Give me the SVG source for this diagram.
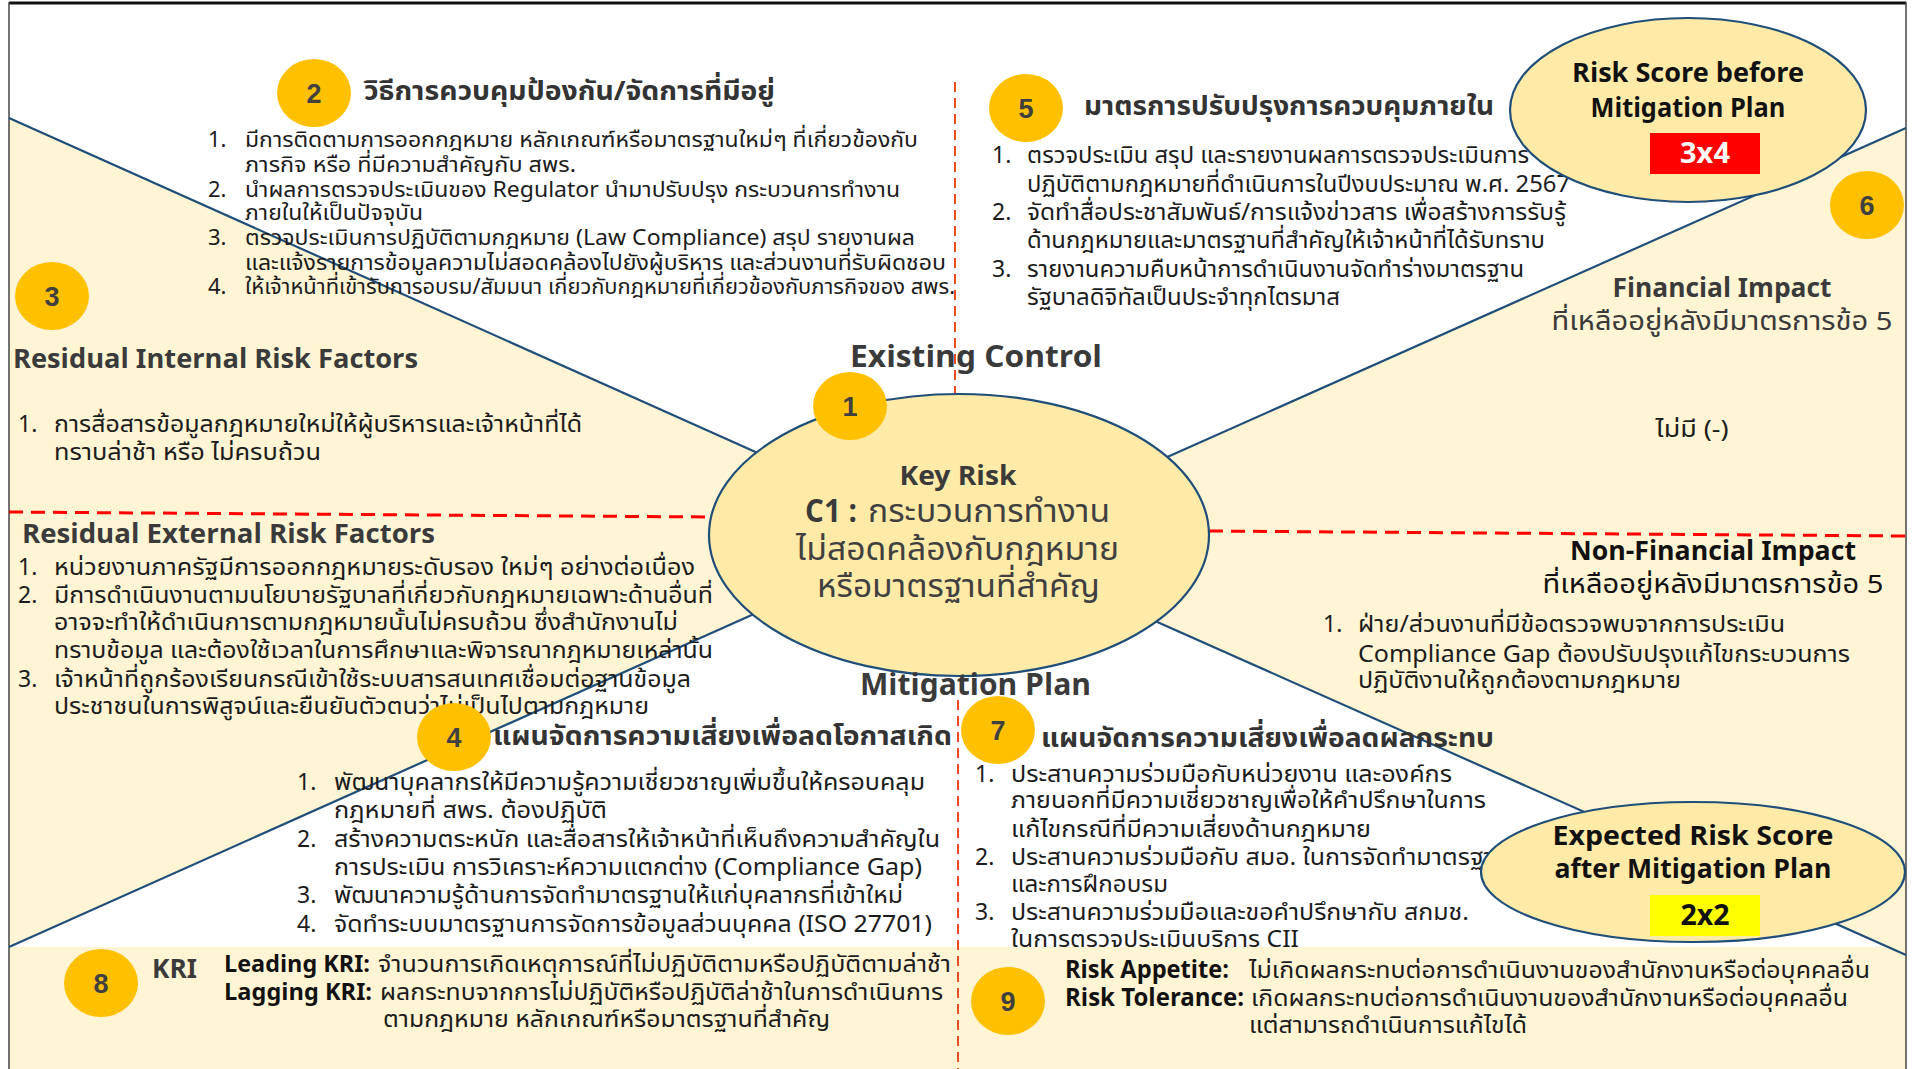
<svg xmlns="http://www.w3.org/2000/svg" width="1913" height="1069" viewBox="0 0 1913 1069">
  <style>
    text { font-family: "Noto Sans Thai", "Noto Sans", "Liberation Sans", sans-serif; fill: #1c1c1c; }
    .b { font-weight: bold; }
    .body { font-size: 23px; }
    .small { font-size: 22px; }
    .title { font-size: 27px; font-weight: bold; fill: #333333; }
    .head { font-size: 27px; font-weight: bold; fill: #3a3a3a; }
    .big { font-size: 31px; font-weight: bold; fill: #3a3a3a; }
    .num ellipse { fill: #FFC000; }
    .num text { font-family: "Liberation Sans", sans-serif; font-size: 27px; font-weight: bold; fill: #404040; text-anchor: middle; }
    .mid { text-anchor: middle; }
    .div { stroke: #1F4E79; stroke-width: 2.2; fill: none; }
    .dashv { stroke: #EE4B22; stroke-width: 2; stroke-dasharray: 10 6; fill: none; }
    .dashh { stroke: #FF0000; stroke-width: 3; stroke-dasharray: 14 8; fill: none; }
    .oval { fill: #FFEAA7; stroke: #1F4E79; stroke-width: 2.2; }
    .tan { fill: #FFF4D3; }
  </style>

  <!-- background panels -->
  <g id="panels">
    <rect x="0" y="0" width="1913" height="1069" fill="#FFFFFF"/>
    <polygon class="tan" points="9,118 760,454 959,535 754,614 9,947"/>
    <polygon class="tan" points="1906,128 1165,458 959,535 1155,621 1906,955"/>
    <rect class="tan" x="9" y="947" width="1897" height="122"/>
  </g>

  <!-- frame -->
  <g id="frame">
    <line x1="9" y1="3" x2="1906" y2="3" stroke="#111111" stroke-width="3"/>
    <line x1="9" y1="2" x2="9" y2="1069" stroke="#444444" stroke-width="1.5"/>
    <line x1="1906" y1="2" x2="1906" y2="1069" stroke="#444444" stroke-width="1.5"/>
  </g>

  <!-- dividing lines -->
  <g id="connectors">
    <line class="div" x1="9" y1="118" x2="760" y2="454"/>
    <line class="div" x1="754" y1="614" x2="9" y2="947"/>
    <line class="div" x1="1165" y1="458" x2="1906" y2="128"/>
    <line class="div" x1="1155" y1="621" x2="1906" y2="955"/>
    <line class="dashv" x1="955" y1="82" x2="955" y2="393"/>
    <line class="dashv" x1="958" y1="700" x2="958" y2="1069"/>
    <line class="dashh" x1="9" y1="512" x2="709" y2="517"/>
    <line class="dashh" x1="1209" y1="531" x2="1906" y2="536"/>
  </g>

  <!-- 1: key risk -->
  <g id="key-risk">
    <ellipse class="oval" cx="959" cy="535" rx="250" ry="141"/>
    <text class="head mid" x="958" y="485" textLength="117" lengthAdjust="spacingAndGlyphs">Key Risk</text>
    <text x="805" y="522" class="b" font-size="32" style="fill:#3a3a3a" textLength="52" lengthAdjust="spacingAndGlyphs">C1 :</text>
    <text x="868" y="522" font-size="32" style="fill:#404040" textLength="242" lengthAdjust="spacingAndGlyphs">กระบวนการทำงาน</text>
    <text x="796" y="560" font-size="32" style="fill:#404040" textLength="323" lengthAdjust="spacingAndGlyphs">ไม่สอดคล้องกับกฎหมาย</text>
    <text x="817" y="597" font-size="32" style="fill:#404040" textLength="283" lengthAdjust="spacingAndGlyphs">หรือมาตรฐานที่สำคัญ</text>
    <g class="num"><ellipse cx="850" cy="406" rx="37" ry="34"/><text x="850" y="416">1</text></g>
  </g>

  <!-- section labels -->
  <g id="labels">
    <text class="big" x="850" y="367" textLength="252" lengthAdjust="spacingAndGlyphs">Existing Control</text>
    <text class="big" x="860" y="695" textLength="231" lengthAdjust="spacingAndGlyphs">Mitigation Plan</text>
  </g>

  <!-- 2: existing controls -->
  <g id="existing-controls">
    <g class="num"><ellipse cx="314" cy="93" rx="37" ry="34"/><text x="314" y="103">2</text></g>
    <text class="title" x="364" y="100" textLength="411" lengthAdjust="spacingAndGlyphs">วิธีการควบคุมป้องกัน/จัดการที่มีอยู่</text>
    <g class="small">
      <text x="208" y="147">1.</text>
      <text x="245" y="147" textLength="673" lengthAdjust="spacingAndGlyphs">มีการติดตามการออกกฎหมาย หลักเกณฑ์หรือมาตรฐานใหม่ๆ ที่เกี่ยวข้องกับ</text>
      <text x="245" y="172" textLength="331" lengthAdjust="spacingAndGlyphs">ภารกิจ หรือ ที่มีความสำคัญกับ สพร.</text>
      <text x="208" y="197">2.</text>
      <text x="245" y="197" textLength="655" lengthAdjust="spacingAndGlyphs">นำผลการตรวจประเมินของ Regulator นำมาปรับปรุง กระบวนการทำงาน</text>
      <text x="245" y="220" textLength="178" lengthAdjust="spacingAndGlyphs">ภายในให้เป็นปัจจุบัน</text>
      <text x="208" y="245">3.</text>
      <text x="245" y="245" textLength="670" lengthAdjust="spacingAndGlyphs">ตรวจประเมินการปฏิบัติตามกฎหมาย (Law Compliance) สรุป รายงานผล</text>
      <text x="245" y="270" textLength="701" lengthAdjust="spacingAndGlyphs">และแจ้งรายการข้อมูลความไม่สอดคล้องไปยังผู้บริหาร และส่วนงานที่รับผิดชอบ</text>
      <text x="208" y="294">4.</text>
      <text x="245" y="294" textLength="710" lengthAdjust="spacingAndGlyphs">ให้เจ้าหน้าที่เข้ารับการอบรม/สัมมนา เกี่ยวกับกฎหมายที่เกี่ยวข้องกับภารกิจของ สพร.</text>
    </g>
  </g>

  <!-- 3: residual risk factors -->
  <g id="residual-factors">
    <g class="num"><ellipse cx="52" cy="296" rx="37" ry="34"/><text x="52" y="306">3</text></g>
    <text class="head" x="13" y="368" textLength="405" lengthAdjust="spacingAndGlyphs">Residual Internal Risk Factors</text>
    <g class="body">
      <text x="18" y="432">1.</text>
      <text x="54" y="432" textLength="528" lengthAdjust="spacingAndGlyphs">การสื่อสารข้อมูลกฎหมายใหม่ให้ผู้บริหารและเจ้าหน้าที่ได้</text>
      <text x="54" y="460" textLength="267" lengthAdjust="spacingAndGlyphs">ทราบล่าช้า หรือ ไม่ครบถ้วน</text>
    </g>
    <text class="head" x="22" y="543" textLength="413" lengthAdjust="spacingAndGlyphs">Residual External Risk Factors</text>
    <g class="body">
      <text x="18" y="575">1.</text>
      <text x="54" y="575" textLength="641" lengthAdjust="spacingAndGlyphs">หน่วยงานภาครัฐมีการออกกฎหมายระดับรอง ใหม่ๆ อย่างต่อเนื่อง</text>
      <text x="18" y="603">2.</text>
      <text x="54" y="603" textLength="659" lengthAdjust="spacingAndGlyphs">มีการดำเนินงานตามนโยบายรัฐบาลที่เกี่ยวกับกฎหมายเฉพาะด้านอื่นที่</text>
      <text x="54" y="630" textLength="624" lengthAdjust="spacingAndGlyphs">อาจจะทำให้ดำเนินการตามกฎหมายนั้นไม่ครบถ้วน ซึ่งสำนักงานไม่</text>
      <text x="54" y="658" textLength="659" lengthAdjust="spacingAndGlyphs">ทราบข้อมูล และต้องใช้เวลาในการศึกษาและพิจารณากฎหมายเหล่านั้น</text>
      <text x="18" y="687">3.</text>
      <text x="54" y="687" textLength="637" lengthAdjust="spacingAndGlyphs">เจ้าหน้าที่ถูกร้องเรียนกรณีเข้าใช้ระบบสารสนเทศเชื่อมต่อฐานข้อมูล</text>
      <text x="54" y="714" textLength="595" lengthAdjust="spacingAndGlyphs">ประชาชนในการพิสูจน์และยืนยันตัวตนว่าไม่เป็นไปตามกฎหมาย</text>
    </g>
  </g>

  <!-- 4: likelihood mitigation -->
  <g id="likelihood-plan">
    <g class="num"><ellipse cx="454" cy="737" rx="37" ry="34"/><text x="454" y="747">4</text></g>
    <text class="title" x="493" y="745" textLength="459" lengthAdjust="spacingAndGlyphs">แผนจัดการความเสี่ยงเพื่อลดโอกาสเกิด</text>
    <g class="body">
      <text x="297" y="790">1.</text>
      <text x="334" y="790" textLength="591" lengthAdjust="spacingAndGlyphs">พัฒนาบุคลากรให้มีความรู้ความเชี่ยวชาญเพิ่มขึ้นให้ครอบคลุม</text>
      <text x="334" y="818" textLength="273" lengthAdjust="spacingAndGlyphs">กฎหมายที่ สพร. ต้องปฏิบัติ</text>
      <text x="297" y="847">2.</text>
      <text x="334" y="847" textLength="606" lengthAdjust="spacingAndGlyphs">สร้างความตระหนัก และสื่อสารให้เจ้าหน้าที่เห็นถึงความสำคัญใน</text>
      <text x="334" y="875" textLength="588" lengthAdjust="spacingAndGlyphs">การประเมิน การวิเคราะห์ความแตกต่าง (Compliance Gap)</text>
      <text x="297" y="903">3.</text>
      <text x="334" y="903" textLength="569" lengthAdjust="spacingAndGlyphs">พัฒนาความรู้ด้านการจัดทำมาตรฐานให้แก่บุคลากรที่เข้าใหม่</text>
      <text x="297" y="932">4.</text>
      <text x="334" y="932" textLength="598" lengthAdjust="spacingAndGlyphs">จัดทำระบบมาตรฐานการจัดการข้อมูลส่วนบุคคล (ISO 27701)</text>
    </g>
  </g>

  <!-- 5: control improvements -->
  <g id="control-improvements">
    <g class="num"><ellipse cx="1026" cy="108" rx="37" ry="34"/><text x="1026" y="118">5</text></g>
    <text class="title" x="1084" y="115" textLength="410" lengthAdjust="spacingAndGlyphs">มาตรการปรับปรุงการควบคุมภายใน</text>
    <g class="body">
      <text x="992" y="163">1.</text>
      <text x="1027" y="163" textLength="502" lengthAdjust="spacingAndGlyphs">ตรวจประเมิน สรุป และรายงานผลการตรวจประเมินการ</text>
      <text x="1027" y="192" textLength="543" lengthAdjust="spacingAndGlyphs">ปฏิบัติตามกฎหมายที่ดำเนินการในปีงบประมาณ พ.ศ. 2567</text>
      <text x="992" y="220">2.</text>
      <text x="1027" y="220" textLength="539" lengthAdjust="spacingAndGlyphs">จัดทำสื่อประชาสัมพันธ์/การแจ้งข่าวสาร เพื่อสร้างการรับรู้</text>
      <text x="1027" y="248" textLength="518" lengthAdjust="spacingAndGlyphs">ด้านกฎหมายและมาตรฐานที่สำคัญให้เจ้าหน้าที่ได้รับทราบ</text>
      <text x="992" y="277">3.</text>
      <text x="1027" y="277" textLength="497" lengthAdjust="spacingAndGlyphs">รายงานความคืบหน้าการดำเนินงานจัดทำร่างมาตรฐาน</text>
      <text x="1027" y="305" textLength="313" lengthAdjust="spacingAndGlyphs">รัฐบาลดิจิทัลเป็นประจำทุกไตรมาส</text>
    </g>
  </g>

  <!-- risk score before mitigation -->
  <g id="score-before">
    <ellipse class="oval" cx="1688" cy="110" rx="178" ry="92"/>
    <text class="mid b" x="1688" y="82" font-size="26" style="fill:#111" textLength="232" lengthAdjust="spacingAndGlyphs">Risk Score before</text>
    <text class="mid b" x="1688" y="117" font-size="26" style="fill:#111" textLength="195" lengthAdjust="spacingAndGlyphs">Mitigation Plan</text>
    <rect x="1650" y="133" width="110" height="41" fill="#FF0000"/>
    <text class="mid b" x="1705" y="163" font-size="28" style="fill:#FFFFFF" textLength="50" lengthAdjust="spacingAndGlyphs">3x4</text>
  </g>

  <!-- 6: residual impact -->
  <g id="residual-impact">
    <g class="num"><ellipse cx="1867" cy="205" rx="37" ry="34"/><text x="1867" y="215">6</text></g>
    <text class="head mid" x="1722" y="297" textLength="219" lengthAdjust="spacingAndGlyphs">Financial Impact</text>
    <text class="mid" x="1722" y="330" font-size="26" style="fill:#3a3a3a" textLength="341" lengthAdjust="spacingAndGlyphs">ที่เหลืออยู่หลังมีมาตรการข้อ 5</text>
    <text class="mid body" x="1692" y="437" textLength="73" lengthAdjust="spacingAndGlyphs">ไม่มี (-)</text>
    <text class="head mid" x="1713" y="560" style="fill:#111" textLength="286" lengthAdjust="spacingAndGlyphs">Non-Financial Impact</text>
    <text class="mid" x="1713" y="593" font-size="26" style="fill:#111" textLength="341" lengthAdjust="spacingAndGlyphs">ที่เหลืออยู่หลังมีมาตรการข้อ 5</text>
    <g class="body">
      <text x="1323" y="632">1.</text>
      <text x="1358" y="632" textLength="427" lengthAdjust="spacingAndGlyphs">ฝ่าย/ส่วนงานที่มีข้อตรวจพบจากการประเมิน</text>
      <text x="1358" y="662" textLength="492" lengthAdjust="spacingAndGlyphs">Compliance Gap ต้องปรับปรุงแก้ไขกระบวนการ</text>
      <text x="1358" y="688" textLength="323" lengthAdjust="spacingAndGlyphs">ปฏิบัติงานให้ถูกต้องตามกฎหมาย</text>
    </g>
  </g>

  <!-- 7: impact mitigation -->
  <g id="impact-plan">
    <g class="num"><ellipse cx="998" cy="730" rx="37" ry="34"/><text x="998" y="740">7</text></g>
    <text class="title" x="1041" y="747" textLength="453" lengthAdjust="spacingAndGlyphs">แผนจัดการความเสี่ยงเพื่อลดผลกระทบ</text>
    <g class="body">
      <text x="975" y="782">1.</text>
      <text x="1011" y="782" textLength="441" lengthAdjust="spacingAndGlyphs">ประสานความร่วมมือกับหน่วยงาน และองค์กร</text>
      <text x="1011" y="808" textLength="475" lengthAdjust="spacingAndGlyphs">ภายนอกที่มีความเชี่ยวชาญเพื่อให้คำปรึกษาในการ</text>
      <text x="1011" y="837" textLength="360" lengthAdjust="spacingAndGlyphs">แก้ไขกรณีที่มีความเสี่ยงด้านกฎหมาย</text>
      <text x="975" y="865">2.</text>
      <text x="1011" y="865" textLength="498" lengthAdjust="spacingAndGlyphs">ประสานความร่วมมือกับ สมอ. ในการจัดทำมาตรฐาน</text>
      <text x="1011" y="892" textLength="157" lengthAdjust="spacingAndGlyphs">และการฝึกอบรม</text>
      <text x="975" y="920">3.</text>
      <text x="1011" y="920" textLength="458" lengthAdjust="spacingAndGlyphs">ประสานความร่วมมือและขอคำปรึกษากับ สกมช.</text>
      <text x="1011" y="947" textLength="288" lengthAdjust="spacingAndGlyphs">ในการตรวจประเมินบริการ CII</text>
    </g>
  </g>

  <!-- expected risk score after mitigation -->
  <g id="score-after">
    <ellipse class="oval" cx="1693" cy="872" rx="212" ry="70"/>
    <text class="mid b" x="1693" y="845" font-size="26" style="fill:#111" textLength="281" lengthAdjust="spacingAndGlyphs">Expected Risk Score</text>
    <text class="mid b" x="1693" y="878" font-size="26" style="fill:#111" textLength="277" lengthAdjust="spacingAndGlyphs">after Mitigation Plan</text>
    <rect x="1650" y="895" width="110" height="41" fill="#FFFF00"/>
    <text class="mid b" x="1705" y="925" font-size="28" style="fill:#111" textLength="49" lengthAdjust="spacingAndGlyphs">2x2</text>
  </g>

  <!-- 8: key risk indicators -->
  <g id="kri">
    <g class="num"><ellipse cx="101" cy="983" rx="37" ry="34"/><text x="101" y="993">8</text></g>
    <text class="head" x="152" y="978" textLength="45" lengthAdjust="spacingAndGlyphs">KRI</text>
    <text class="b" x="224" y="972" font-size="24" style="fill:#111" textLength="146" lengthAdjust="spacingAndGlyphs">Leading KRI:</text>
    <text class="body" x="378" y="972" textLength="573" lengthAdjust="spacingAndGlyphs">จำนวนการเกิดเหตุการณ์ที่ไม่ปฏิบัติตามหรือปฏิบัติตามล่าช้า</text>
    <text class="b" x="224" y="1000" font-size="24" style="fill:#111" textLength="148" lengthAdjust="spacingAndGlyphs">Lagging KRI:</text>
    <text class="body" x="380" y="1000" textLength="563" lengthAdjust="spacingAndGlyphs">ผลกระทบจากการไม่ปฏิบัติหรือปฏิบัติล่าช้าในการดำเนินการ</text>
    <text class="body" x="383" y="1027" textLength="447" lengthAdjust="spacingAndGlyphs">ตามกฎหมาย หลักเกณฑ์หรือมาตรฐานที่สำคัญ</text>
  </g>

  <!-- 9: risk appetite and tolerance -->
  <g id="appetite">
    <g class="num"><ellipse cx="1008" cy="1001" rx="37" ry="34"/><text x="1008" y="1011">9</text></g>
    <text class="b" x="1065" y="978" font-size="25" style="fill:#111" textLength="164" lengthAdjust="spacingAndGlyphs">Risk Appetite:</text>
    <text class="body" x="1249" y="978" textLength="621" lengthAdjust="spacingAndGlyphs">ไม่เกิดผลกระทบต่อการดำเนินงานของสำนักงานหรือต่อบุคคลอื่น</text>
    <text class="b" x="1065" y="1006" font-size="25" style="fill:#111" textLength="179" lengthAdjust="spacingAndGlyphs">Risk Tolerance:</text>
    <text class="body" x="1251" y="1006" textLength="597" lengthAdjust="spacingAndGlyphs">เกิดผลกระทบต่อการดำเนินงานของสำนักงานหรือต่อบุคคลอื่น</text>
    <text class="body" x="1249" y="1033" textLength="278" lengthAdjust="spacingAndGlyphs">แต่สามารถดำเนินการแก้ไขได้</text>
  </g>
</svg>
